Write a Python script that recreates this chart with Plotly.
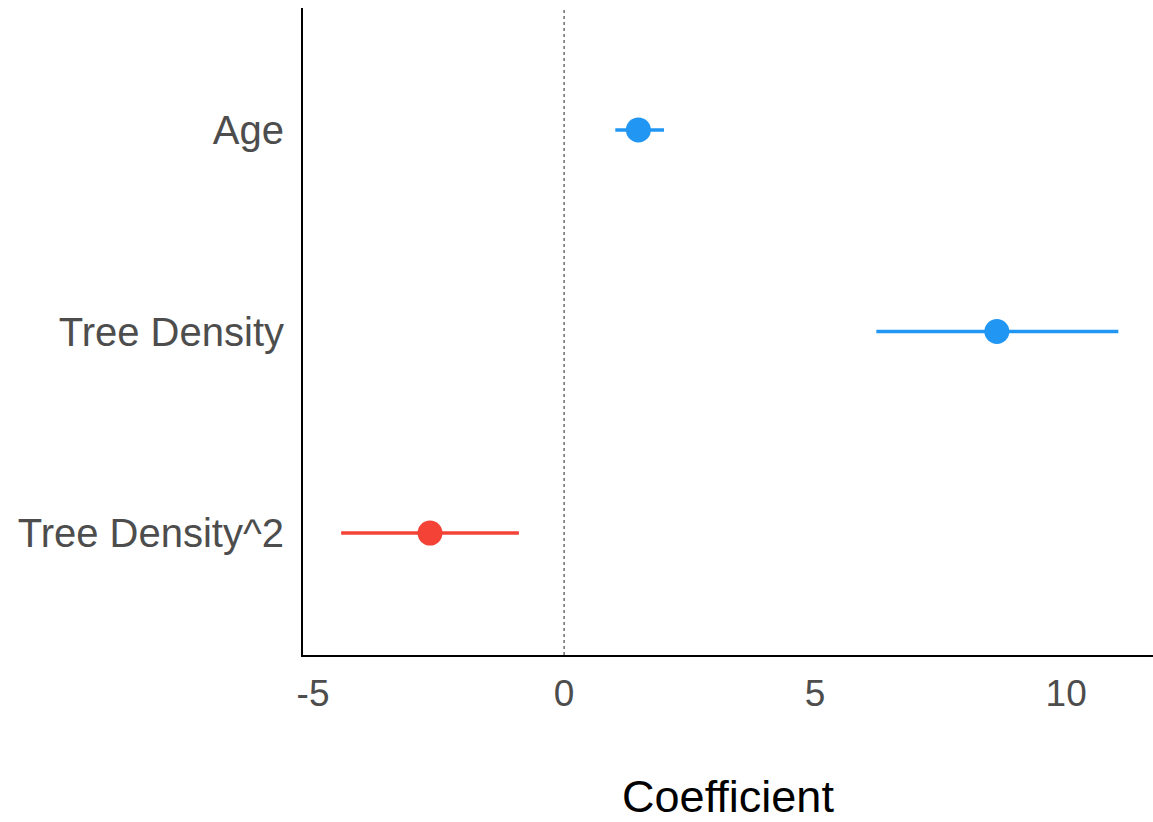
import plotly.graph_objects as go

terms = ["Tree Density^2", "Tree Density", "Age"]
estimates = [-2.67, 8.62, 1.48]
ci_low = [-4.44, 6.22, 1.02]
ci_high = [-0.90, 11.04, 1.99]
colors = ["#F44336", "#2196F3", "#2196F3"]

fig = go.Figure()
for t, e, lo, hi, c in zip(terms, estimates, ci_low, ci_high, colors):
    fig.add_trace(go.Scatter(
        x=[e], y=[t], mode="markers",
        marker=dict(size=25, color=c),
        error_x=dict(type="data", symmetric=False, array=[hi - e], arrayminus=[e - lo],
                     color=c, thickness=3.5, width=0),
        showlegend=False,
    ))

fig.add_shape(type="line", x0=0, x1=0, y0=0, y1=1, xref="x", yref="paper",
              line=dict(color="#222222", width=1, dash="dot"), layer="below")

fig.update_layout(
    width=1153, height=822,
    margin=dict(l=303, r=0, t=8, b=167),
    plot_bgcolor="white", paper_bgcolor="white",
    font=dict(family="Liberation Sans, Arial", color="#4D4D4D", size=35),
    xaxis=dict(range=[-5.2, 11.73], tickvals=[-5, 0, 5, 10], ticktext=["-5", "0", "5", "10"],
               showgrid=False, zeroline=False, showline=True, linecolor="black", linewidth=2,
               ticks="", ticklabelstandoff=5, automargin=False, tickfont=dict(size=37),
               title=dict(text="Coefficient", font=dict(size=45, color="black"), standoff=70)),
    yaxis=dict(type="category", categoryorder="array", categoryarray=terms,
               range=[-0.605, 2.605], showgrid=False, zeroline=False, showline=True,
               linecolor="black", linewidth=2, ticks="", ticklabelstandoff=9,
               automargin=False, tickfont=dict(size=40)),
)

post = ("document.body.style.margin='0';document.body.style.overflow='hidden';"
        "Plotly.relayout('{plot_id}', {width:1153, height:822});")
fig.write_html("out.html", config={"responsive": False, "displayModeBar": False}, post_script=post)
